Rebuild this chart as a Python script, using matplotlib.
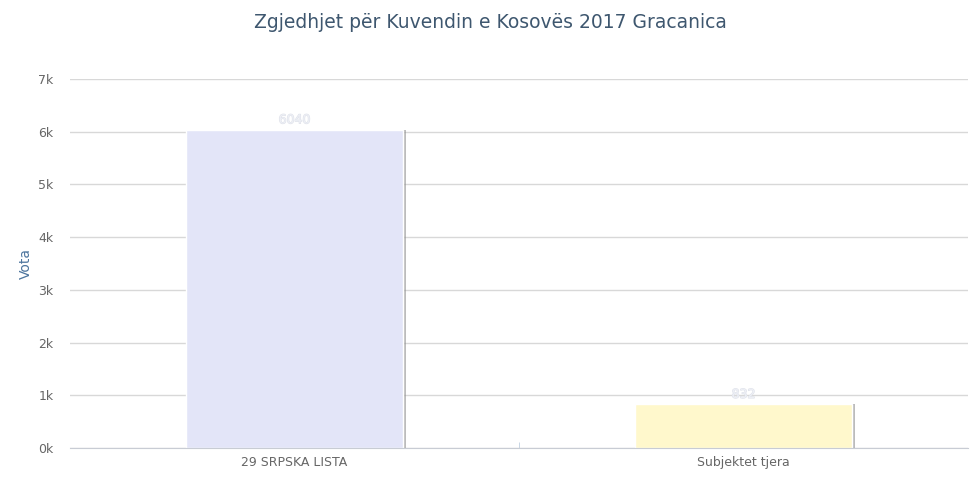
import matplotlib
matplotlib.use("Agg")
import matplotlib.pyplot as plt
from matplotlib.ticker import FuncFormatter, MultipleLocator
import matplotlib.patheffects as pe

categories = ["29 SRPSKA LISTA", "Subjektet tjera"]
values = [6040, 832]
colors = ["#e3e5f8", "#fff8cc"]
title = "Zgjedhjet për Kuvendin e Kosovës 2017 Gracanica"
ylabel = "Vota"

fig = plt.figure(figsize=(9.8, 4.8), dpi=100)
ax = fig.add_axes([70/980, 32/480, 898/980, 369/480])

x = list(range(len(categories)))
# shadow
for xi, v in zip(x, values):
    ax.bar(xi + 0.005, v, width=0.485, color="#909090", alpha=0.6, zorder=2)
bars = ax.bar(x, values, width=0.485, color=colors, edgecolor="white", linewidth=1, zorder=3)

for xi, v in zip(x, values):
    ax.text(xi, v + 60, f"{v}", ha="center", va="bottom", fontsize=9,
            color="#eef0f6", zorder=4,
            path_effects=[pe.withStroke(linewidth=0.8, foreground="#dfe2ea")])

ax.set_xlim(-0.5, 1.5)
ax.set_ylim(0, 7000)
ax.yaxis.set_major_locator(MultipleLocator(1000))
ax.yaxis.set_major_formatter(FuncFormatter(lambda v, p: f"{int(v/1000)}k"))
ax.set_xticks(x)
ax.set_xticklabels(categories, fontsize=9, color="#666666")
ax.set_xticks([0.5], minor=True)
ax.tick_params(axis="x", which="both", length=0, pad=6)
ax.tick_params(axis="x", which="minor", length=4, color="#c0d0e0", direction="in")
ax.tick_params(axis="y", length=0, labelsize=9, labelcolor="#666666", pad=12)

ax.grid(axis="y", color="#d8d8d8", linewidth=1, zorder=0)
for s in ["top", "right", "left"]:
    ax.spines[s].set_visible(False)
ax.spines["bottom"].set_color("#c8ccd4")
ax.spines["bottom"].set_zorder(5)

ax.set_ylabel(ylabel, fontsize=10, color="#4d759e", labelpad=4)
fig.text(0.5, 0.953, title, ha="center", va="center", fontsize=13.5, color="#3e576f")

fig.savefig("out.png", dpi=100)
